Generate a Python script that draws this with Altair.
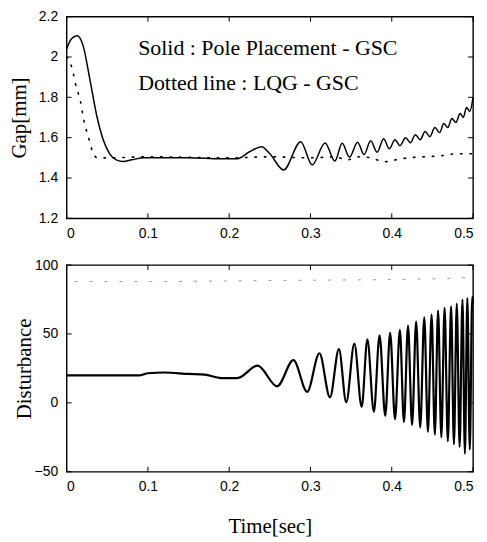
import altair as alt
import pandas as pd

# ---------------- data ----------------
x_ticks = [0, 0.1, 0.2, 0.3, 0.4, 0.5]
gap_ticks = [1.2, 1.4, 1.6, 1.8, 2.0, 2.2]
dist_ticks = [-50, 0, 50, 100]

# Gap, solid: Pole Placement - GSC
gap_pp_t = [0.000, 0.006, 0.013, 0.020, 0.029, 0.037, 0.045, 0.053, 0.061, 0.070,
            0.080, 0.095, 0.150, 0.190, 0.210, 0.225, 0.240, 0.250, 0.267, 0.288,
            0.302, 0.318, 0.330, 0.339, 0.348, 0.358, 0.366, 0.374, 0.382, 0.390,
            0.397, 0.404, 0.410, 0.417, 0.423, 0.429, 0.435, 0.441, 0.447, 0.453,
            0.459, 0.464, 0.469, 0.474, 0.479, 0.484, 0.488, 0.492, 0.496, 0.500]
gap_pp_v = [2.04, 2.09, 2.105, 2.06, 1.88, 1.71, 1.59, 1.52, 1.49, 1.482,
            1.49, 1.50, 1.50, 1.495, 1.495, 1.53, 1.555, 1.52, 1.44, 1.58,
            1.465, 1.574, 1.484, 1.572, 1.503, 1.577, 1.516, 1.585, 1.528, 1.595,
            1.545, 1.59, 1.56, 1.60, 1.575, 1.615, 1.59, 1.63, 1.605, 1.65,
            1.625, 1.67, 1.65, 1.695, 1.675, 1.72, 1.70, 1.75, 1.73, 1.80]

# Gap, dotted: LQG - GSC
gap_lqg_t = [0.000, 0.007, 0.011, 0.017, 0.021, 0.027, 0.032, 0.038, 0.050, 0.100,
             0.200, 0.250, 0.300, 0.330, 0.345, 0.360, 0.375, 0.390, 0.405, 0.420,
             0.440, 0.460, 0.480, 0.500]
gap_lqg_v = [2.00, 1.94, 1.865, 1.78, 1.69, 1.60, 1.53, 1.50, 1.50, 1.505,
             1.50, 1.505, 1.50, 1.505, 1.49, 1.505, 1.50, 1.48, 1.49, 1.50,
             1.505, 1.51, 1.52, 1.52]

# Disturbance, solid: Pole Placement - GSC
dist_pp_t = [0.000, 0.050, 0.090, 0.100, 0.120, 0.150, 0.170, 0.190, 0.210, 0.235,
             0.259, 0.279, 0.296, 0.311, 0.324, 0.335, 0.344, 0.354, 0.363, 0.370,
             0.378, 0.385, 0.392, 0.398, 0.404, 0.410, 0.415, 0.420, 0.425, 0.430,
             0.435, 0.440, 0.4445, 0.449, 0.453, 0.457, 0.461, 0.465, 0.469, 0.473,
             0.4765, 0.480, 0.4835, 0.487, 0.490, 0.493, 0.496, 0.499, 0.500]
dist_pp_v = [20, 20, 20, 21.5, 22, 21, 20.5, 18, 18, 27,
             12, 31, 8, 36, 4, 39, 0.5, 43, -3, 46,
             -6.5, 49, -9.5, 51, -12, 53, -14, 56, -16, 59,
             -18, 62, -21, 64, -23, 67, -25, 69, -28, 70,
             -30, 72, -32, 75, -37, 76, -34, 77, 72]

# Disturbance, dotted (faint): LQG - GSC
dist_lqg_t = [0.010, 0.100, 0.200, 0.300, 0.400, 0.450, 0.500]
dist_lqg_v = [88, 88, 88.5, 89, 89.5, 90, 91]

ann_text = ["Solid : Pole Placement - GSC", "Dotted line : LQG - GSC"]
ann_t = [0.088, 0.088]
ann_v = [2.008, 1.838]

# ---------------- frames ----------------
gap_pp = pd.DataFrame({"t": gap_pp_t, "v": gap_pp_v})
gap_lqg = pd.DataFrame({"t": gap_lqg_t, "v": gap_lqg_v})
dist_pp = pd.DataFrame({"t": dist_pp_t, "v": dist_pp_v})
dist_lqg = pd.DataFrame({"t": dist_lqg_t, "v": dist_lqg_v})
xt = pd.DataFrame({"t": x_ticks})
gt = pd.DataFrame({"v": gap_ticks})
dt = pd.DataFrame({"v": dist_ticks})
ann = pd.DataFrame({"t": ann_t, "v": ann_v, "label": ann_text})

W, H1, H2 = 409, 203, 208
TICK = 5
SERIF = "Liberation Serif"
SANS = "Liberation Sans"

xscale = alt.Scale(domain=[0, 0.5], nice=False, zero=False)


def panel(line_solid, line_dotted, ticks_y, ydomain, H, ytitle, xtitle, dotted_style, solid_w, ytitle_x, extra=None):
    yscale = alt.Scale(domain=ydomain, nice=False, zero=False)
    xaxis = alt.Axis(values=x_ticks, format=".1~f", title=xtitle, labelPadding=8,
                     titlePadding=22, titleFont=SERIF, titleFontSize=21,
                     titleFontWeight="normal")
    yaxis = alt.Axis(values=ticks_y["v"].tolist(), format=".1~f", title=ytitle, labelPadding=9,
                     titleFont=SERIF, titleFontSize=21, titleFontWeight="normal",
                     titleX=ytitle_x, titleBaseline="middle")
    x = alt.X("t:Q", scale=xscale, axis=xaxis)
    y = alt.Y("v:Q", scale=yscale, axis=yaxis)

    solid = alt.Chart(line_solid).mark_line(color="black", strokeWidth=solid_w,
                                             interpolate="monotone").encode(x=x, y=y)
    dotted = alt.Chart(line_dotted).mark_line(interpolate="monotone", **dotted_style).encode(
        x=alt.X("t:Q", scale=xscale), y=alt.Y("v:Q", scale=yscale))

    tb = alt.Chart(xt).mark_rule(color="black", strokeWidth=1).encode(
        x=alt.X("t:Q", scale=xscale), y=alt.value(H), y2=alt.value(H - TICK))
    tt = alt.Chart(xt).mark_rule(color="black", strokeWidth=1).encode(
        x=alt.X("t:Q", scale=xscale), y=alt.value(0), y2=alt.value(TICK))
    tl = alt.Chart(ticks_y).mark_rule(color="black", strokeWidth=1).encode(
        y=alt.Y("v:Q", scale=yscale), x=alt.value(0), x2=alt.value(TICK))
    tr = alt.Chart(ticks_y).mark_rule(color="black", strokeWidth=1).encode(
        y=alt.Y("v:Q", scale=yscale), x=alt.value(W), x2=alt.value(W - TICK))

    layers = [solid, dotted, tb, tt, tl, tr]
    if extra is not None:
        layers.append(extra(yscale))
    return alt.layer(*layers).properties(width=W, height=H)


def ann_layer(yscale):
    return alt.Chart(ann).mark_text(align="left", baseline="alphabetic", font=SERIF,
                                    fontSize=22, color="black").encode(
        x=alt.X("t:Q", scale=xscale), y=alt.Y("v:Q", scale=yscale), text="label:N")


top = panel(gap_pp, gap_lqg, gt, [1.2, 2.2], H1, "Gap[mm]", None,
            dict(color="black", strokeWidth=1.6, strokeDash=[1.5, 8], strokeCap="round"),
            1.5, -47, extra=ann_layer)
bottom = panel(dist_pp, dist_lqg, dt, [-50, 100], H2, "Disturbance", "Time[sec]",
               dict(color="#9a9a9a", strokeWidth=1, strokeDash=[3, 12]),
               2.2, -42)

chart = alt.vconcat(top, bottom, spacing=16).properties(
    padding={"left": 0, "top": -1, "right": 0, "bottom": 0}
).configure_view(stroke="black", strokeWidth=1.4).configure_axis(
    grid=False, domain=False, ticks=False, labelFont=SANS, labelFontSize=14,
    labelColor="black", titleColor="black"
)

chart.save("out.html", embed_options={"renderer": "svg", "actions": False})
